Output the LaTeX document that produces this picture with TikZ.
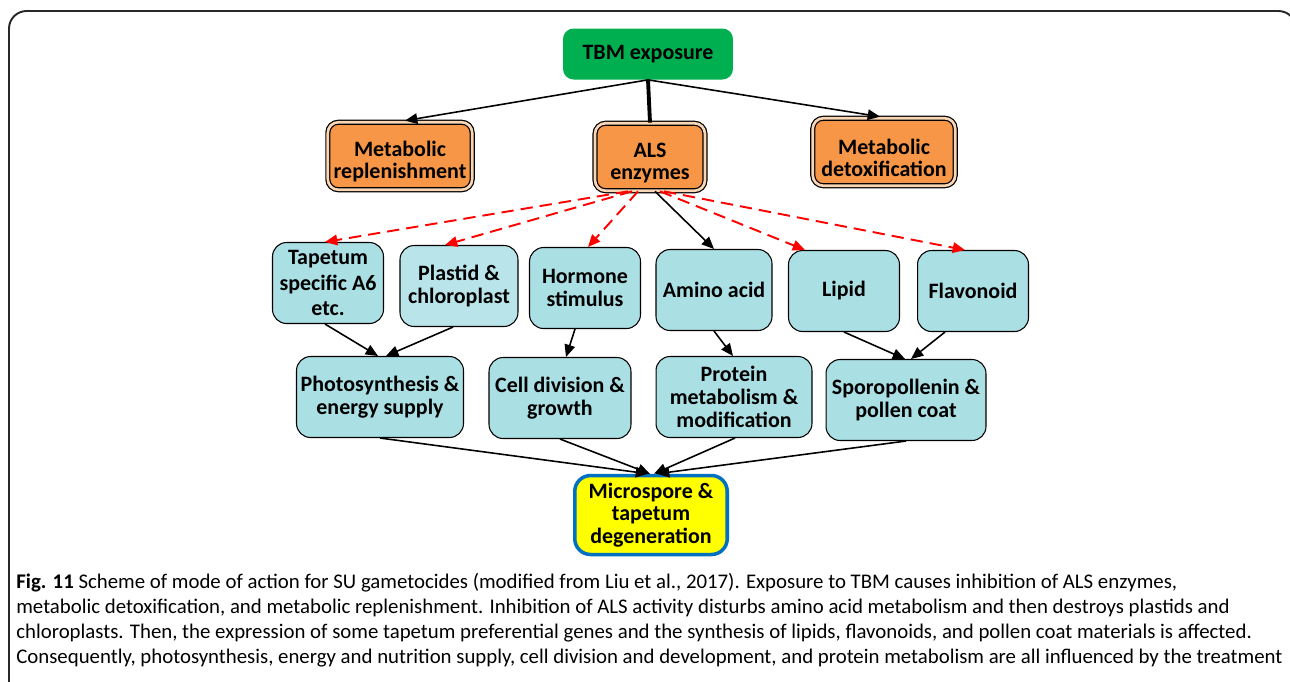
\documentclass[tikz,border=0pt]{standalone}
\usepackage{fontspec}
\setmainfont{Carlito}
\usetikzlibrary{arrows.meta, positioning, calc}
\definecolor{TbmGreen}   {RGB}{  0, 176,  80}
\definecolor{AlsOrange}  {RGB}{247, 150,  70}
\definecolor{AlsGap}     {RGB}{250, 215, 180}
\definecolor{TargetTeal} {RGB}{170, 223, 228}
\definecolor{PlastidTeal}{RGB}{185, 228, 234}
\definecolor{EndYellow}  {RGB}{255, 255,   0}
\definecolor{EndBlue}    {RGB}{  0, 112, 192}
\definecolor{DashRed}    {RGB}{255,   0,   0}
\definecolor{FrameGray}  {RGB}{ 40,  40,  40}
\newcommand{\diagfont}{\fontsize{12.5}{13}\selectfont\bfseries}
\newcommand{\tightfont}{\fontsize{12.5}{12.4}\selectfont\bfseries}
\newcommand{\capfont}{\fontsize{11.85}{14.2}\selectfont}
\tikzset{
  % exposure node
  tbmnode/.style={
    rectangle, rounded corners=6pt,
    fill=TbmGreen, draw=none,
    font=\diagfont, align=center,
    minimum width=3.4cm, minimum height=1.02cm
  },
  % first response nodes (text sits a little low in the box)
  alsnode/.style={
    rectangle, rounded corners=6pt,
    fill=AlsOrange, draw=black, double=AlsGap,
    line width=0.7pt, double distance=1.5pt,
    font=\tightfont, align=center,
    execute at begin node={\rule{0pt}{27.5pt}},
    minimum width=2.85cm, minimum height=1.35cm
  },
  % affected targets
  targetnode/.style={
    rectangle, rounded corners=8pt,
    fill=TargetTeal, draw=black, line width=0.6pt,
    font=\diagfont, align=center, inner sep=1pt,
    minimum width=2.22cm, minimum height=1.62cm
  },
  % affected processes
  processnode/.style={
    targetnode, minimum height=1.62cm
  },
  % final result
  endnode/.style={
    rectangle, rounded corners=9pt,
    fill=EndYellow, draw=EndBlue, line width=2pt,
    font=\diagfont, align=center,
    minimum width=3.05cm, minimum height=1.58cm
  },
  % arrows
  flowarrow/.style={
    -{Triangle[length=7pt, width=6pt]}, line width=0.9pt, color=black
  },
  dasharrow/.style={
    -{Triangle[length=7pt, width=6pt]}, line width=1.1pt, color=DashRed,
    dash pattern=on 7pt off 4pt
  }
}

\begin{document}
\begin{tikzpicture}[x=0.02cm, y=-0.02cm]

  \useasboundingbox (0,0) rectangle (1290,681);

  % ── Frame ────────────────────────────────────────────────────────────────
  \begin{scope}
    \clip (0,0) rectangle (1290,681);
    \draw[FrameGray, line width=1.1pt, rounded corners=10pt]
          (9,720) -- (9,11) -- (1296,11) -- (1296,720);
  \end{scope}

  % ── Top level ────────────────────────────────────────────────────────────
  \node[tbmnode] (tbm) at (648,54) {TBM exposure};

  \node[alsnode] (repl)  at (400,156) {Metabolic\\replenishment};
  \node[alsnode, minimum width=2.2cm] (als) at (650,157) {ALS\\enzymes};
  \node[alsnode] (detox) at (884,152) {Metabolic\\detoxification};

  % ── Targets of ALS ───────────────────────────────────────────────────────
  \node[targetnode, font=\fontsize{12.5}{14.7}\selectfont\bfseries]
                    (tapetum)   at (328,283) {Tapetum\\specific A6\\etc.};
  \node[targetnode, fill=PlastidTeal, minimum width=2.36cm]
                    (plastid)   at (459,286) {Plastid \&\\chloroplast};
  \node[targetnode] (hormone)   at (585,288) {Hormone\\stimulus};
  \node[targetnode, minimum width=2.32cm]
                    (amino)     at (714,290) {Amino acid};
  \node[targetnode] (lipid)     at (844,291) {Lipid};
  \node[targetnode] (flavonoid) at (973,291) {Flavonoid};

  % ── Processes ────────────────────────────────────────────────────────────
  \node[processnode, minimum width=3.34cm] (photo)   at (380,397)
        {Photosynthesis \&\\energy supply};
  \node[processnode, minimum width=2.84cm] (cell)    at (560,398)
        {Cell division \&\\growth};
  \node[processnode, minimum width=3.12cm] (protein) at (734,397)
        {Protein\\metabolism \&\\modification};
  \node[processnode, minimum width=3.2cm]  (sporo)   at (906,400)
        {Sporopollenin \&\\pollen coat};

  % ── Result ───────────────────────────────────────────────────────────────
  \node[endnode] (degen) at (651,515) {Microspore \&\\tapetum\\degeneration};

  % ── Arrows from exposure ─────────────────────────────────────────────────
  \draw[flowarrow] (tbm.south) -- ($(repl.north)+(5,-1)$);
  \draw[flowarrow] (tbm.south) -- ($(detox.north)+(-4,-1)$);
  \draw[line width=2.2pt] (tbm.south) -- (als.north);

  % ── Arrows from ALS enzymes ──────────────────────────────────────────────
  \draw[dasharrow] ($(als.south)+(-22,0)$) -- ($(tapetum.north)+(-3,0)$);
  \draw[dasharrow] ($(als.south)+(-18,0)$) -- ($(plastid.north)+(-14,0)$);
  \draw[dasharrow] ($(als.south)+(-12,0)$) -- ($(hormone.north)+(3,0)$);
  \draw[flowarrow] ($(als.south)+(5,0)$)   -- (amino.north);
  \draw[dasharrow] ($(als.south)+(10,0)$)  -- ($(lipid.north)+(-39,0)$);
  \draw[dasharrow] ($(als.south)+(14,0)$)  -- ($(flavonoid.north)+(-8,0)$);

  % ── Targets to processes ─────────────────────────────────────────────────
  \draw[flowarrow] ($(tapetum.south)+(-3,0)$)   -- ($(photo.north)+(-2,0)$);
  \draw[flowarrow] ($(plastid.south)+(-6,0)$)   -- ($(photo.north)+(6,0)$);
  \draw[flowarrow] ($(hormone.south)+(-10,0)$)  -- ($(cell.north)+(6,0)$);
  \draw[flowarrow] (amino.south)                -- ($(protein.north)+(-1,0)$);
  \draw[flowarrow] (lipid.south)                -- ($(sporo.north)+(-1,0)$);
  \draw[flowarrow] ($(flavonoid.south)+(-28,0)$) -- ($(sporo.north)+(5,0)$);

  % ── Processes to result ──────────────────────────────────────────────────
  \draw[flowarrow] (photo.south)   -- ($(degen.north)+(-3,0)$);
  \draw[flowarrow] (cell.south)    -- ($(degen.north)+(-1,0)$);
  \draw[flowarrow] ($(protein.south)+(1,0)$) -- ($(degen.north)+(3,0)$);
  \draw[flowarrow] (sporo.south)   -- ($(degen.north)+(6,0)$);

  % ── Caption (anchored at the baseline of its last line) ─────────────────
  \node[anchor=base west, align=left, inner sep=0pt, font=\capfont]
        (caption) at (16,663)
  {\textbf{Fig. 11} Scheme of mode of action for SU gametocides (modified from Liu et al., 2017). Exposure to TBM causes inhibition of ALS enzymes,\\
   metabolic detoxification, and metabolic replenishment. Inhibition of ALS activity disturbs amino acid metabolism and then destroys plastids and\\
   chloroplasts. Then, the expression of some tapetum preferential genes and the synthesis of lipids, flavonoids, and pollen coat materials is affected.\\
   Consequently, photosynthesis, energy and nutrition supply, cell division and development, and protein metabolism are all influenced by the treatment};

\end{tikzpicture}
\end{document}
